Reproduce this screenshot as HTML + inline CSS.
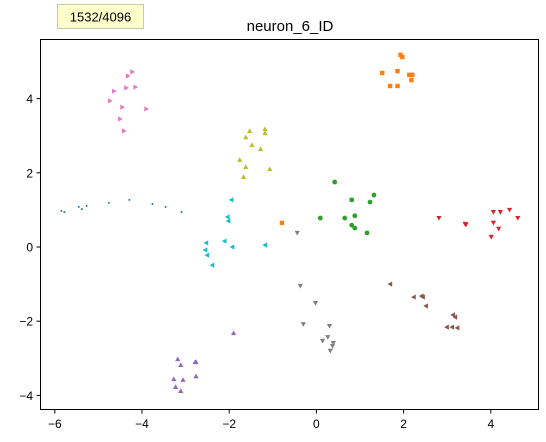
<!DOCTYPE html>
<html><head><meta charset="utf-8"><style>
body{margin:0;background:#fff;}
svg{display:block;font-family:"Liberation Sans","DejaVu Sans",sans-serif;}
</style></head><body>
<svg id="c" width="546" height="442" viewBox="0 0 546 442">
<rect x="0" y="0" width="546" height="442" fill="#fff"/>
<g id="marks"></g>
<rect x="40.5" y="39.5" width="498" height="370" fill="none" stroke="#000" stroke-width="1"/>
<g id="axes"></g>
<text x="290" y="31" font-size="15" text-anchor="middle">neuron_6_ID</text>
<rect x="57.5" y="4.5" width="86" height="24" fill="#ffffcc" stroke="#c8c8a8"/>
<text x="100.5" y="21.5" font-size="13" text-anchor="middle">1532/4096</text>
</svg>
<script>
const xTicks=[-6,-4,-2,0,2,4];
const yTicks=[-4,-2,0,2,4];
const colors=["#1f77b4","#ff7f0e","#2ca02c","#d62728","#9467bd","#8c564b","#e377c2","#7f7f7f","#bcbd22","#17becf"];
const shapes=["point","square","circle","tdown","tup","tleft","tright","tri","tup","tleft"];
const s0x=[-5.85,-5.78,-5.45,-5.38,-5.27,-4.76,-4.29,-3.76,-3.46,-3.09];
const s0y=[0.97,0.94,1.08,1.02,1.11,1.19,1.27,1.16,1.08,0.94];
const s1x=[1.93,1.97,1.51,1.86,2.13,2.20,2.18,1.69,1.86,-0.79];
const s1y=[5.18,5.12,4.69,4.74,4.64,4.64,4.50,4.34,4.34,0.65];
const s2x=[0.42,1.32,0.81,1.23,0.09,0.65,0.88,0.81,0.88,1.16];
const s2y=[1.75,1.40,1.27,1.21,0.78,0.78,0.84,0.59,0.51,0.38];
const s3x=[2.81,3.41,4.06,4.22,4.43,4.62,4.06,4.18,4.01,3.43];
const s3y=[0.78,0.62,0.94,0.94,1.00,0.78,0.65,0.49,0.27,0.60];
const s4x=[-1.90,-3.18,-3.11,-2.78,-2.76,-3.27,-3.06,-2.76,-3.23,-3.11];
const s4y=[-2.32,-3.02,-3.18,-3.10,-3.10,-3.56,-3.58,-3.48,-3.77,-3.88];
const s5x=[1.69,2.23,2.41,2.44,2.51,3.13,3.18,2.99,3.11,3.23];
const s5y=[-1.00,-1.35,-1.32,-1.35,-1.59,-1.83,-1.89,-2.16,-2.16,-2.18];
const s6x=[-4.22,-4.32,-4.64,-4.36,-4.15,-4.73,-4.45,-3.90,-4.50,-4.41];
const s6y=[4.72,4.61,4.20,4.29,4.31,3.94,3.77,3.72,3.45,3.13];
const s7x=[-0.44,-0.37,-0.02,-0.30,0.30,0.26,0.14,0.39,0.37,0.32];
const s7y=[0.38,-1.05,-1.51,-2.08,-2.13,-2.43,-2.53,-2.59,-2.67,-2.80];
const s8x=[-1.53,-1.18,-1.18,-1.62,-1.48,-1.28,-1.76,-1.62,-1.07,-1.67];
const s8y=[3.13,3.18,3.07,2.96,2.75,2.64,2.35,2.16,2.10,1.89];
const s9x=[-1.95,-2.04,-2.02,-2.11,-2.53,-2.55,-2.51,-2.39,-1.93,-1.18];
const s9y=[1.27,0.81,0.70,0.16,0.11,-0.08,-0.22,-0.49,0.00,0.05];
const XS=[s0x,s1x,s2x,s3x,s4x,s5x,s6x,s7x,s8x,s9x];
const YS=[s0y,s1y,s2y,s3y,s4y,s5y,s6y,s7y,s8y,s9y];
function sx(v){return 316.4+43.6*v;}
function sy(v){return 247-37.1*v;}
const NS="http://www.w3.org/2000/svg";
const marks=document.getElementById('marks');
const axes=document.getElementById('axes');
function shapePath(t,x,y){
  const r=2.6;
  if(t==="tup")return `M${x},${y-r} L${x+r},${y+r*0.8} L${x-r},${y+r*0.8}Z`;
  if(t==="tdown"||t==="tri")return `M${x},${y+r} L${x+r},${y-r*0.8} L${x-r},${y-r*0.8}Z`;
  if(t==="tleft")return `M${x-r},${y} L${x+r*0.8},${y-r} L${x+r*0.8},${y+r}Z`;
  if(t==="tright")return `M${x+r},${y} L${x-r*0.8},${y-r} L${x-r*0.8},${y+r}Z`;
  return "";
}
for(let s=0;s<10;s++){
  for(let i=0;i<XS[s].length;i++){
    const x=sx(XS[s][i]),y=sy(YS[s][i]);let el;const t=shapes[s];
    if(t==="point"){el=document.createElementNS(NS,'circle');el.setAttribute('cx',x);el.setAttribute('cy',y);el.setAttribute('r',1);}
    else if(t==="circle"){el=document.createElementNS(NS,'circle');el.setAttribute('cx',x);el.setAttribute('cy',y);el.setAttribute('r',2.4);}
    else if(t==="square"){el=document.createElementNS(NS,'rect');el.setAttribute('x',x-2.2);el.setAttribute('y',y-2.2);el.setAttribute('width',4.4);el.setAttribute('height',4.4);}
    else{el=document.createElementNS(NS,'path');el.setAttribute('d',shapePath(t,x,y));}
    el.setAttribute('fill',colors[s]);
    
    
    marks.appendChild(el);
  }
}
xTicks.forEach(v=>{
  const x=sx(v);
  const l=document.createElementNS(NS,'line');
  l.setAttribute('x1',x);l.setAttribute('x2',x);l.setAttribute('y1',409.5);l.setAttribute('y2',413.5);l.setAttribute('stroke','#000');
  
  
  axes.appendChild(l);
  const t=document.createElementNS(NS,'text');
  t.setAttribute('x',x);t.setAttribute('y',428);t.setAttribute('font-size','12');t.setAttribute('text-anchor','middle');
  t.textContent=(v<0?'\u2212'+(-v):''+v);
  
  
  axes.appendChild(t);
});
yTicks.forEach(v=>{
  const y=sy(v);
  const l=document.createElementNS(NS,'line');
  l.setAttribute('x1',36.5);l.setAttribute('x2',40.5);l.setAttribute('y1',y);l.setAttribute('y2',y);l.setAttribute('stroke','#000');
  
  
  axes.appendChild(l);
  const t=document.createElementNS(NS,'text');
  t.setAttribute('x',33);t.setAttribute('y',y+4.5);t.setAttribute('font-size','12');t.setAttribute('text-anchor','end');
  t.textContent=(v<0?'\u2212'+(-v):''+v);
  
  
  axes.appendChild(t);
});
</script>
</body></html>
